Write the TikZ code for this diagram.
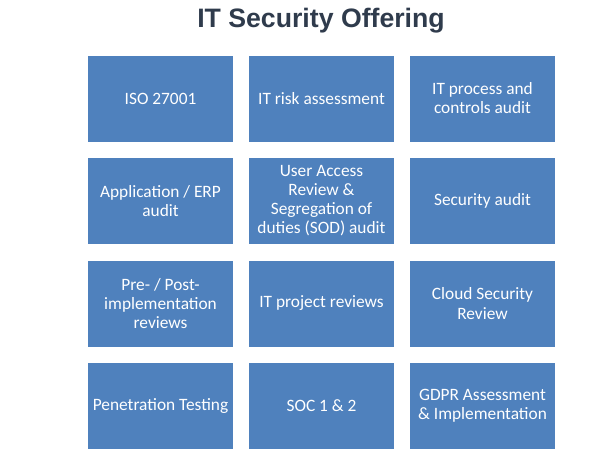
\documentclass[tikz,border=0pt]{standalone}
\usepackage{fontspec}
\setmainfont{Carlito}
\newfontfamily\titlefont{Liberation Sans}
\definecolor{boxblue}{HTML}{4F81BD}
\definecolor{titlegray}{HTML}{2F3B4C}
\begin{document}
\begin{tikzpicture}[x=0.75pt, y=-0.75pt]
\tikzset{
    OB/.style={fill=boxblue, draw=none, minimum width=108.75pt, minimum height=64.5pt,
               inner sep=2pt, align=center, text=white,
               font=\fontsize{13}{14.3}\selectfont},
    TTL/.style={font=\titlefont\fontsize{20}{24}\selectfont\bfseries, text=titlegray, anchor=base},
}
\useasboundingbox (0,0) rectangle (609,461);

% Title
\node[TTL] (title) at (321, 27) {IT Security Offering};

%── Row 1 ──
\node[OB] (iso)   at (160.5,  98.5) {ISO 27001};
\node[OB] (risk)  at (321.5,  98.5) {IT risk assessment};
\node[OB] (proc)  at (482.5,  98.5) {IT process and\\controls audit};

%── Row 2 ──
\node[OB] (erp)   at (160.5, 201) {Application / ERP\\audit};
\node[OB] (uar)   at (321.5, 201) {User Access\\Review \&\\Segregation of\\duties (SOD) audit};
\node[OB] (sec)   at (482.5, 201) {Security audit};

%── Row 3 ──
\node[OB] (impl)  at (160.5, 303.5) {Pre- / Post-\\implementation\\reviews};
\node[OB] (proj)  at (321.5, 303.5) {IT project reviews};
\node[OB] (cloud) at (482.5, 303.5) {Cloud Security\\Review};

%── Row 4 ──
\node[OB] (pen)   at (160.5, 405.5) {Penetration Testing};
\node[OB] (soc)   at (321.5, 405.5) {SOC 1 \& 2};
\node[OB] (gdpr)  at (482.5, 405.5) {GDPR Assessment\\\& Implementation};

\end{tikzpicture}
\end{document}
